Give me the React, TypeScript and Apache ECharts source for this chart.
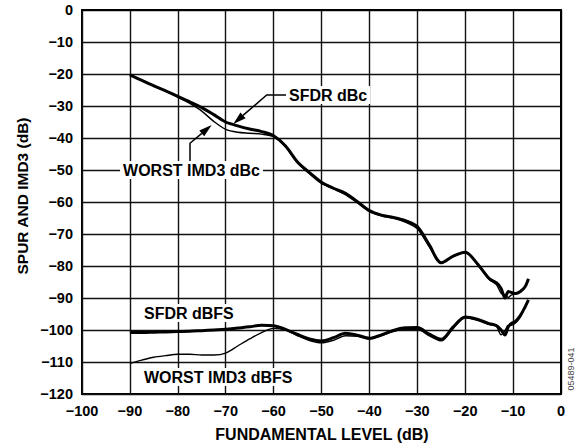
import React, { useEffect, useRef } from "react";
import * as echarts from "echarts";

const fundamentalLevel = [
  -90, -87.5, -85, -82.5, -80, -77.5, -75, -72.5, -70, -67.5, -65, -62.5, -60, -57.5, -55, -52.5, -50,
  -47.5, -45, -42.5, -40, -37.5, -35, -32.5, -30, -27.5, -25, -22.5, -20, -17.5, -15, -13.5, -12.5,
  -11.7, -11, -10.3, -9.5, -8.5, -7.5, -6.8,
];

const sfdrDbc = [
  -20.3, -22.0, -23.7, -25.3, -27.0, -28.7, -30.5, -32.7, -35.0, -36.2, -37.2, -38.0, -39.3, -42.5, -47.5,
  -50.8, -53.8, -55.7, -57.3, -59.9, -62.7, -64.1, -64.8, -65.8, -67.7, -73.4, -79.0, -76.9, -75.7, -79.2,
  -83.9, -85.2, -87.0, -90.0, -88.0, -88.3, -88.6, -88.0, -86.5, -84.0,
];

const worstImd3Dbc = [
  -20.3, -22.0, -23.7, -25.4, -27.2, -29.2, -31.6, -34.8, -37.3, -38.2, -38.5, -38.8, -39.6, -42.8, -47.8,
  -51.2, -54.2, -55.9, -57.7, -60.3, -62.9, -64.3, -65.1, -66.3, -68.4, -74.0, -79.2, -77.0, -75.8, -79.4,
  -84.2, -85.8, -88.5, -89.0, -89.8, -89.0, -88.8, -88.2, -86.6, -84.2,
];

const sfdrDbfs = [
  -100.8, -100.8, -100.7, -100.6, -100.5, -100.4, -100.2, -100.0, -99.8, -99.4, -99.0, -98.5, -98.7, -99.8,
  -101.4, -102.8, -103.4, -102.4, -101.0, -101.6, -102.6, -101.5, -100.1, -99.3, -99.2, -101.3, -102.9,
  -99.0, -95.9, -96.6, -98.0, -98.6, -100.0, -101.6, -99.0, -97.9, -97.3, -95.5, -92.8, -90.6,
];

const worstImd3Dbfs = [
  -110.4, -109.4, -108.5, -108.0, -107.6, -107.6, -107.8, -107.8, -107.2, -105.0, -102.8, -100.8, -99.5,
  -100.0, -101.8, -103.3, -104.0, -103.2, -101.8, -102.0, -102.8, -101.8, -100.5, -99.8, -99.8, -101.8,
  -103.4, -99.5, -96.2, -97.0, -98.3, -98.8, -101.5, -100.2, -98.5, -98.5, -97.8, -96.0, -93.0, -90.8,
];

const xTicks = { min: -100, max: 0, interval: 10 };
const yTicks = { min: -120, max: 0, interval: 10 };

const FONT = "'Liberation Sans', Arial, Helvetica, sans-serif";

function pairs(ys: number[]) {
  return fundamentalLevel.map((x, i) => [x, ys[i]]);
}

function fmt(v: number) {
  return String(v).replace("-", "\u2212");
}

function textEl(text: string, x: number, y: number, align: string, opts: any = {}) {
  return {
    type: "text",
    x,
    y,
    z: 100,
    rotation: opts.rotation || 0,
    style: {
      text,
      font: opts.font || `bold 16px ${FONT}`,
      fill: opts.fill || "#000",
      align,
      verticalAlign: "middle",
      textAlign: align,
      textVerticalAlign: "middle",
      backgroundColor: opts.bg ? "#fff" : undefined,
      padding: opts.bg ? [1, 3, 1, 3] : 0,
    },
  };
}

export default function App() {
  const ref = useRef<HTMLDivElement>(null);
  useEffect(() => {
    if (!ref.current) return;
    const chart = echarts.init(ref.current, null, { renderer: "svg" });
    const lineSeries = (name: string, ys: number[], width: number) => ({
      name,
      type: "line",
      data: pairs(ys),
      showSymbol: false,
      symbol: "none",
      smooth: 0.3,
      lineStyle: { color: "#000", width },
      z: 5,
    });
    const labelStyle = {
      formatter: fmt,
      color: "#000",
      fontFamily: FONT,
      fontWeight: "bold",
      fontSize: 14.5,
      margin: 9,
    };
    chart.setOption({
      animation: false,
      backgroundColor: "#fff",
      grid: {
        left: 82,
        right: 27,
        top: 10,
        bottom: 54,
        show: true,
        borderColor: "#000",
        borderWidth: 2,
        backgroundColor: "transparent",
      },
      xAxis: {
        type: "value",
        ...xTicks,
        axisLine: { show: true, lineStyle: { color: "#000", width: 2 } },
        axisTick: { show: false },
        splitLine: { show: true, lineStyle: { color: "#111", width: 1.4 } },
        axisLabel: labelStyle,
      },
      yAxis: {
        type: "value",
        ...yTicks,
        axisLine: { show: true, lineStyle: { color: "#000", width: 2 } },
        axisTick: { show: false },
        splitLine: { show: true, lineStyle: { color: "#111", width: 1.4 } },
        axisLabel: labelStyle,
      },
      series: [
        lineSeries("SFDR dBc", sfdrDbc, 3),
        lineSeries("WORST IMD3 dBc", worstImd3Dbc, 1.4),
        lineSeries("SFDR dBFS", sfdrDbfs, 3),
        lineSeries("WORST IMD3 dBFS", worstImd3Dbfs, 1.4),
      ],
      graphic: [
        // leader for SFDR dBc
        {
          type: "polyline",
          z: 99,
          shape: { points: [[288, 95], [266.7, 95], [243, 115.4]] },
          style: { stroke: "#000", lineWidth: 1.5, fill: null },
        },
        {
          type: "polygon",
          z: 99,
          shape: { points: [[233.3, 124], [245.6, 118.2], [240.4, 112.6]] },
          style: { fill: "#000" },
        },
        // leader for WORST IMD3 dBc
        {
          type: "polyline",
          z: 99,
          shape: { points: [[190, 162], [190, 143.3], [201.8, 133.4]] },
          style: { stroke: "#000", lineWidth: 1.5, fill: null },
        },
        {
          type: "polygon",
          z: 99,
          shape: { points: [[211.7, 125], [204.2, 136.3], [199.3, 130.5]] },
          style: { fill: "#000" },
        },
        textEl("SFDR dBc", 286, 95, "left", { bg: true }),
        textEl("WORST IMD3 dBc", 191.5, 170, "center", { bg: true }),
        textEl("SFDR dBFS", 141, 313, "left", { bg: true }),
        textEl("WORST IMD3 dBFS", 141, 377, "left", { bg: true }),
        textEl("FUNDAMENTAL LEVEL (dB)", 322, 434, "center", { font: `bold 16px ${FONT}` }),
        textEl("SPUR AND IMD3 (dB)", 22, 196, "center", {
          font: `bold 15.5px ${FONT}`,
          rotation: Math.PI / 2,
        }),
        textEl("05489-041", 571, 369, "center", {
          font: `9px ${FONT}`,
          fill: "#444",
          rotation: Math.PI / 2,
        }),
      ],
    });
    return () => chart.dispose();
  }, []);
  return (
    <div
      ref={ref}
      style={{ position: "fixed", left: 0, top: 0, width: 588, height: 448, background: "#fff" }}
    />
  );
}
